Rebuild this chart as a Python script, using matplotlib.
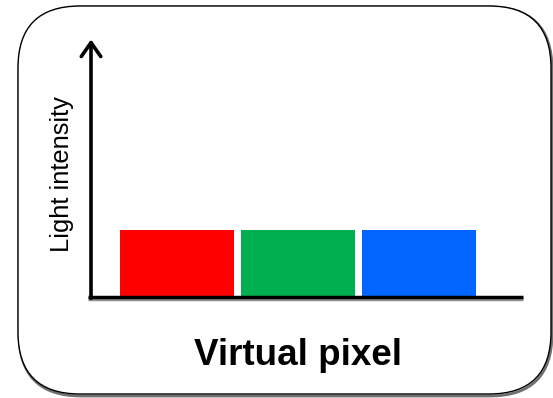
import matplotlib.pyplot as plt
from matplotlib.patches import FancyBboxPatch

plt.rcParams['font.family'] = ['Liberation Sans', 'DejaVu Sans']

# Data
channels = ["R", "G", "B"]
intensity = [1.0, 1.0, 1.0]
colors = ["#ff0000", "#00b050", "#0066ff"]

fig = plt.figure(figsize=(5.53, 3.98), dpi=100)

# background layer in pixel coordinates for the rounded frame
bg = fig.add_axes([0, 0, 1, 1])
bg.set_xlim(0, 553)
bg.set_ylim(398, 0)
bg.axis("off")
shadow = FancyBboxPatch((19, 7), 533, 389, boxstyle="round,pad=0,rounding_size=62",
                        fc="none", ec="#707070", lw=2.0)
bg.add_patch(shadow)
frame = FancyBboxPatch((18, 6), 533, 388, boxstyle="round,pad=0,rounding_size=62",
                       fc="white", ec="black", lw=1.0)
bg.add_patch(frame)

# main axes
ax = fig.add_axes([91 / 553, 1 - 297 / 398, 432 / 553, 255 / 398])
ax.patch.set_alpha(0)
x = range(len(channels))
ax.bar(x, intensity, width=0.942, color=colors)
ax.set_xlim(-0.711, 2.86)
ax.set_ylim(0, 3.8)
for s in ax.spines.values():
    s.set_visible(False)
ax.set_xticks([])
ax.set_yticks([])

# x axis line with slight shadow
ax.plot([-0.006, 1.0], [-0.008, -0.008], transform=ax.transAxes, color="#909090",
        lw=2.5, clip_on=False, solid_capstyle="butt")
ax.plot([-0.007, 1.0], [0, 0], transform=ax.transAxes, color="black",
        lw=2.5, clip_on=False, solid_capstyle="butt")
# y axis arrow
ax.annotate("", xy=(0, 1.01), xytext=(0, -0.005), xycoords="axes fraction",
            arrowprops=dict(arrowstyle="->,head_length=1.0,head_width=0.7",
                            lw=2.6, color="black", shrinkA=0, shrinkB=0))

fig.text(74 / 553, 1 - 174 / 398, "Light intensity", rotation=90,
         ha="right", va="center", fontsize=18.4)
fig.text(298 / 553, 1 - 365 / 398, "Virtual pixel", ha="center", va="baseline",
         fontsize=26.5, fontweight="bold")

fig.savefig("out.png", dpi=100)
